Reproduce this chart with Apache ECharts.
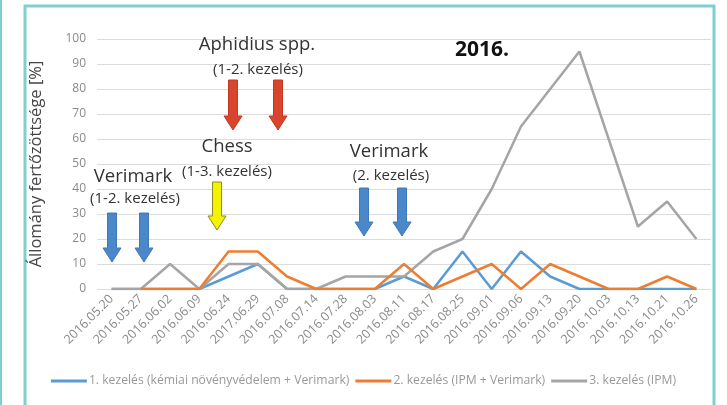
<!DOCTYPE html>
<html>
<head>
	<meta charset="utf-8">
	<style type="text/css">
		*{ padding: 0; margin: 0; }
		body{ background: #fff; }
		#chart{ width: 727px; height: 405px; }
	</style>
</head>
<body>
<div id="chart"></div>
<script type="text/javascript" src="https://cdn.jsdelivr.net/npm/echarts@6/dist/echarts.min.js"></script>
<script type="text/javascript">
	// mintavételi dátumok
	var categories = ['2016.05.20', '2016.05.27', '2016.06.02', '2016.06.09', '2016.06.24', '2017.06.29', '2016.07.08',
		'2016.07.14', '2016.07.28', '2016.08.03', '2016.08.11', '2016.08.17', '2016.08.25', '2016.09.01', '2016.09.06',
		'2016.09.13', '2016.09.20', '2016.10.03', '2016.10.13', '2016.10.21', '2016.10.26'];
	var seriesNames = ['1. kezelés (kémiai növényvédelem + Verimark)', '2. kezelés (IPM + Verimark)', '3. kezelés (IPM)'];
	var kezeles1 = [0, 0, 0, 0, 5, 10, 0, 0, 0, 0, 5, 0, 15, 0, 15, 5, 0, 0, 0, 0, 0];
	var kezeles2 = [null, 0, 0, 0, 15, 15, 5, 0, 0, 0, 10, 0, 5, 10, 0, 10, 5, 0, 0, 5, 0];
	var kezeles3 = [0, 0, 10, 0, 10, 10, 0, 0, 5, 5, 5, 15, 20, 40, 65, 80, 95, 60, 25, 35, 20];
	var yTicks = [0, 10, 20, 30, 40, 50, 60, 70, 80, 90, 100];

	var colors = ['#5b9bd5', '#ed7d31', '#a5a5a5'];
	var font = '"Open Sans", sans-serif';

	// lefelé mutató nyíl (annotáció)
	function arrow(cx, top, bottom, fill, stroke) {
		var sw = 4.5, hw = 9, hh = 14;
		return {
			type: 'polygon',
			shape: { points: [[cx - sw, top], [cx + sw, top], [cx + sw, bottom - hh], [cx + hw, bottom - hh],
				[cx, bottom], [cx - hw, bottom - hh], [cx - sw, bottom - hh]] },
			style: { fill: fill, stroke: stroke, lineWidth: 1 },
			z: 10
		};
	}
	function label(text, x, y, size, bold) {
		return {
			type: 'text', x: x, y: y, z: 10,
			style: { text: text, fill: bold ? '#111' : '#333', font: (bold ? 'bold ' : '') + size + 'px ' + font,
				textAlign: 'center', textVerticalAlign: 'middle' }
		};
	}

	var chart = echarts.init(document.getElementById('chart'));
	var option = {
		animation: false,
		backgroundColor: '#fff',
		color: colors,
		grid: { left: 97, right: 16, top: 39, bottom: 116 },
		legend: {
			bottom: 13,
			left: 'center',
			itemWidth: 36,
			itemHeight: 3,
			itemGap: 6,
			icon: 'rect',
			textStyle: { color: '#999', fontSize: 12.2, fontFamily: font, padding: [0, 0, 0, -3] },
			data: seriesNames
		},
		xAxis: {
			type: 'category',
			data: categories,
			boundaryGap: true,
			axisLine: { show: false },
			axisTick: { show: false },
			axisLabel: { rotate: 45, color: '#8a8a8a', fontSize: 12.5, margin: 8, interval: 0, fontFamily: font }
		},
		yAxis: {
			type: 'value',
			min: yTicks[0],
			max: yTicks[yTicks.length - 1],
			interval: 10,
			name: 'Állomány fertőzöttsége [%]',
			nameLocation: 'middle',
			nameGap: 52,
			nameTextStyle: { color: '#444', fontSize: 16.5, fontFamily: font },
			axisLabel: { color: '#8a8a8a', fontSize: 12, margin: 11, fontFamily: font },
			splitLine: { lineStyle: { color: '#dcdcdc', width: 1 } },
			axisLine: { show: false },
			axisTick: { show: false }
		},
		graphic: [
			{ type: 'rect', shape: { x: 25, y: 6, width: 689, height: 420 }, style: { fill: 'none', stroke: '#7fcfd0', lineWidth: 3 }, z: 0 },
			{ type: 'rect', shape: { x: 0, y: 0, width: 2, height: 405 }, style: { fill: '#7fcfd0' }, z: 0 },
			arrow(112, 213, 262, '#4a88c9', '#3f78b5'),
			arrow(144, 213, 262, '#4a88c9', '#3f78b5'),
			arrow(233, 80, 130, '#d9452c', '#c03a24'),
			arrow(278, 80, 130, '#d9452c', '#c03a24'),
			arrow(217, 182, 230, '#f4f400', '#8a8a20'),
			arrow(364, 188, 236, '#4a88c9', '#3f78b5'),
			arrow(402, 188, 236, '#4a88c9', '#3f78b5'),
			label('Aphidius spp.', 257, 45, 18.5, false),
			label('(1-2. kezelés)', 258, 70, 15, false),
			label('Chess', 227, 147, 18.5, false),
			label('(1-3. kezelés)', 227, 172, 15, false),
			label('Verimark', 133, 177, 18.5, false),
			label('(1-2. kezelés)', 135, 199, 15, false),
			label('Verimark', 389, 152, 18.5, false),
			label('(2. kezelés)', 391, 176, 15, false),
			label('2016.', 482, 50, 21, true)
		],
		series: [{
			type: 'line',
			name: seriesNames[0],
			data: kezeles1,
			symbol: 'none',
			lineStyle: { width: 2.5, color: colors[0] },
			z: 2
		}, {
			type: 'line',
			name: seriesNames[1],
			data: kezeles2,
			symbol: 'none',
			lineStyle: { width: 2.5, color: colors[1] },
			z: 4
		}, {
			type: 'line',
			name: seriesNames[2],
			data: kezeles3,
			symbol: 'none',
			lineStyle: { width: 2.5, color: colors[2] },
			z: 3
		}]
	};
	chart.setOption(option);
</script>
</body>
</html>
